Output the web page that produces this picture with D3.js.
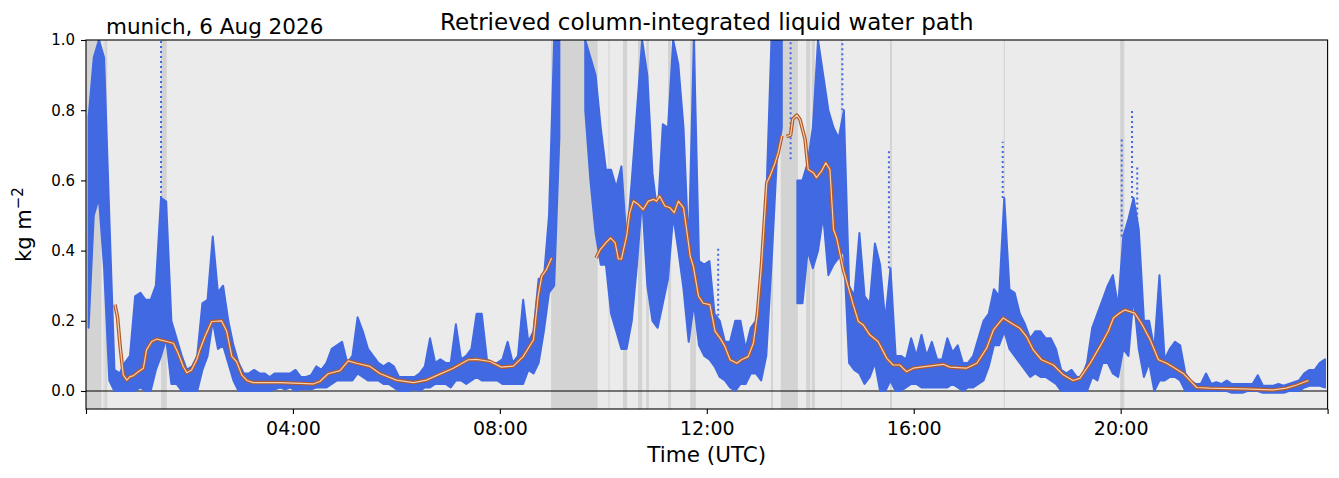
<!DOCTYPE html>
<html>
<head>
<meta charset="utf-8">
<script src="https://cdn.jsdelivr.net/npm/d3@7"></script>
<style>
  body { margin: 0; background: #fff; }
  text { font-family: "DejaVu Sans", sans-serif; }
</style>
</head>
<body>
<div id="viz"></div>
<script>
// lwp scatter, summarised per 6 minute bin (start hour, low and high edge of the blue cloud)
var binHours = d3.range(0, 24, 0.1).map(function (h) { return Math.round(h * 10) / 10; });

var lwpLow = [
  0.18, 0.50, 0.55, 0.35, 0.03, 0.00, 0.00, 0.00, 0.00, 0.00,    // 00h
  0.01, 0.00, 0.00, 0.06, 0.10, 0.15, 0.02, 0.02, 0.00, 0.00,    // 01h
  0.00, 0.00, 0.06, 0.10, 0.20, 0.12, 0.13, 0.08, 0.03, 0.00,    // 02h
  0.00, 0.00, 0.00, 0.00, 0.00, 0.00, 0.005, 0.01, 0.005, 0.01,  // 03h
  0.00, 0.005, 0.005, 0.005, 0.01, 0.01, 0.01, 0.02, 0.03, 0.03, // 04h
  0.03, 0.03, 0.05, 0.04, 0.03, 0.03, 0.03, 0.02, 0.02, 0.01,    // 05h
  0.00, 0.00, 0.00, 0.005, 0.00, 0.01, 0.01, 0.02, 0.02, 0.02,   // 06h
  0.01, 0.03, 0.03, 0.02, 0.03, 0.04, 0.03, 0.03, 0.03, 0.03,    // 07h
  0.02, 0.02, 0.02, 0.02, 0.02, 0.06, 0.05, 0.08, 0.17, 0.28,    // 08h
  0.30, 0.72, null, null, null, null, 0.80, 0.60, 0.45, 0.36,    // 09h
  0.36, 0.22, 0.17, 0.12, 0.12, 0.20, 0.36, 0.55, 0.30, 0.20,    // 10h
  0.18, 0.25, 0.32, 0.50, 0.40, 0.29, 0.14, 0.25, 0.13, 0.10,    // 11h
  0.09, 0.07, 0.04, 0.03, 0.01, 0.00, 0.02, 0.02, 0.05, 0.05,    // 12h
  0.03, 0.10, 0.36, 0.65, 0.75, null, null, 0.25, 0.25, 0.40,    // 13h
  0.35, 0.40, 0.50, 0.33, 0.36, 0.38, 0.40, 0.08, 0.06, 0.05,    // 14h
  0.02, 0.04, 0.08, 0.00, 0.00, 0.03, 0.00, 0.00, 0.01, 0.02,    // 15h
  0.02, 0.01, 0.01, 0.01, 0.01, 0.01, 0.01, 0.02, 0.01, 0.00,    // 16h
  0.01, 0.01, 0.02, 0.03, 0.07, 0.13, 0.13, 0.17, 0.12, 0.10,    // 17h
  0.08, 0.06, 0.04, 0.05, 0.04, 0.04, 0.03, 0.02, 0.00, 0.00,    // 18h
  0.00, 0.00, 0.00, 0.00, 0.04, 0.03, 0.08, 0.08, 0.05, 0.04,    // 19h
  0.12, 0.10, 0.27, 0.12, 0.04, 0.08, 0.00, 0.03, 0.03, 0.04,    // 20h
  0.04, 0.03, 0.00, 0.00, 0.00, 0.00, 0.00, 0.00, 0.00, 0.00,    // 21h
  0.00, -0.005, -0.005, -0.005, 0.00, 0.00, 0.00, -0.005, -0.005, -0.005, // 22h
  -0.005, -0.005, 0.00, 0.00, 0.00, 0.01, 0.015, 0.015, 0.015, 0.01      // 23h
];

var lwpHigh = [
  0.78, 0.95, 1.00, 0.95, 0.50, 0.06, 0.05, 0.08, 0.10, 0.27,    // 00h
  0.28, 0.26, 0.26, 0.30, 0.55, 0.54, 0.20, 0.15, 0.10, 0.06,    // 01h
  0.07, 0.10, 0.25, 0.26, 0.44, 0.28, 0.30, 0.20, 0.13, 0.08,    // 02h
  0.05, 0.05, 0.06, 0.05, 0.05, 0.04, 0.05, 0.05, 0.05, 0.05,    // 03h
  0.06, 0.04, 0.04, 0.045, 0.07, 0.06, 0.08, 0.12, 0.13, 0.14,   // 04h
  0.08, 0.10, 0.21, 0.17, 0.12, 0.10, 0.08, 0.07, 0.08, 0.07,    // 05h
  0.04, 0.04, 0.04, 0.04, 0.05, 0.07, 0.15, 0.08, 0.09, 0.08,    // 06h
  0.08, 0.19, 0.09, 0.10, 0.12, 0.22, 0.22, 0.09, 0.08, 0.08,    // 07h
  0.09, 0.14, 0.08, 0.10, 0.26, 0.14, 0.17, 0.32, 0.32, 0.50,    // 08h
  1.00, 1.00, null, null, null, null, 1.00, 0.95, 0.90, 0.75,    // 09h
  0.63, 0.63, 0.58, 0.64, 0.42, 0.60, 0.80, 1.00, 0.90, 0.62,    // 10h
  0.50, 0.76, 0.75, 1.00, 0.93, 0.75, 0.40, 1.00, 0.37, 0.36,    // 11h
  0.37, 0.22, 0.20, 0.14, 0.14, 0.20, 0.20, 0.12, 0.18, 0.20,    // 12h
  0.30, 0.55, 1.00, 1.00, 1.00, null, null, 0.60, 0.60, 0.65,    // 13h
  0.75, 1.00, 0.90, 0.80, 0.75, 0.72, 0.80, 0.30, 0.27, 0.45,    // 14h
  0.27, 0.25, 0.42, 0.36, 0.20, 0.35, 0.10, 0.10, 0.09, 0.15,    // 15h
  0.10, 0.16, 0.10, 0.14, 0.09, 0.09, 0.15, 0.11, 0.13, 0.08,    // 16h
  0.08, 0.10, 0.15, 0.20, 0.22, 0.29, 0.27, 0.55, 0.29, 0.28,    // 17h
  0.22, 0.19, 0.15, 0.17, 0.17, 0.15, 0.15, 0.12, 0.06, 0.05,    // 18h
  0.06, 0.04, 0.04, 0.08, 0.18, 0.22, 0.26, 0.30, 0.33, 0.24,    // 19h
  0.44, 0.49, 0.55, 0.46, 0.20, 0.20, 0.12, 0.33, 0.09, 0.12,    // 20h
  0.14, 0.13, 0.05, 0.03, 0.02, 0.02, 0.05, 0.02, 0.025, 0.02,   // 21h
  0.03, 0.02, 0.02, 0.02, 0.02, 0.02, 0.045, 0.015, 0.015, 0.015, // 22h
  0.02, 0.015, 0.02, 0.025, 0.03, 0.05, 0.06, 0.06, 0.08, 0.09    // 23h
];

// sparse single retrievals that stick out of the cloud
var spikeHour = [1.45, 12.22, 13.62, 14.62, 15.52, 17.72, 20.02, 20.22, 20.32];
var spikeLow  = [0.55, 0.20, 0.66, 0.80, 0.35, 0.55, 0.44, 0.55, 0.46];
var spikeHigh = [1.00, 0.41, 1.00, 1.00, 0.69, 0.71, 0.72, 0.80, 0.64];

// running mean (null = gap)
var meanHour = [0.56, 0.61, 0.66, 0.72, 0.79, 0.85, 0.91, 1.01, 1.11, 1.17, 1.27, 1.37, 1.56, 1.69, 1.78,
  1.88, 1.95, 2.04, 2.14, 2.20, 2.30, 2.43, 2.62, 2.72, 2.82, 2.91, 3.01, 3.11, 3.23, 3.75, 4.39, 4.52,
  4.68, 4.91, 5.07, 5.23, 5.49, 5.68, 6.00, 6.33, 6.58, 6.84, 7.10, 7.39, 7.55, 7.81, 8.03, 8.26, 8.45,
  8.65, 8.74, 8.81, 8.90, 9.00, 9.40,
  9.86, 9.94, 10.06, 10.14, 10.23, 10.29, 10.35, 10.45, 10.51, 10.58, 10.68, 10.77, 10.87, 10.97, 11.03,
  11.09, 11.19, 11.29, 11.37, 11.45, 11.55, 11.61, 11.68, 11.74, 11.84, 11.93, 12.06, 12.16, 12.26, 12.35,
  12.45, 12.58, 12.67, 12.80, 12.90, 12.98, 13.06, 13.16, 13.22, 13.32, 13.38, 13.45, 13.50,
  13.54, 13.62, 13.66, 13.74, 13.80, 13.90, 13.96, 14.06, 14.12, 14.22, 14.30, 14.38, 14.45, 14.51, 14.64,
  14.83, 14.93, 15.02, 15.15, 15.31, 15.48, 15.60, 15.73, 15.86, 15.99, 16.25, 16.57, 16.70, 17.02, 17.22,
  17.41, 17.54, 17.73, 17.89, 18.05, 18.18, 18.31, 18.47, 18.70, 18.89, 19.08, 19.21, 19.41, 19.60, 19.76,
  19.86, 19.98, 20.08, 20.27, 20.40, 20.57, 20.73, 20.89, 21.05, 21.21, 21.47, 21.72, 22.37, 22.95, 23.20,
  23.40, 23.63];
var meanLwp = [0.246, 0.21, 0.127, 0.046, 0.031, 0.041, 0.043, 0.055, 0.065, 0.117, 0.141, 0.148, 0.141, 0.136, 0.108,
  0.07, 0.052, 0.06, 0.089, 0.117, 0.155, 0.198, 0.2, 0.17, 0.098, 0.084, 0.046, 0.03, 0.024, 0.024, 0.02, 0.027,
  0.049, 0.058, 0.086, 0.079, 0.07, 0.05, 0.031, 0.024, 0.031, 0.048, 0.065, 0.089, 0.09, 0.084, 0.068, 0.071, 0.098,
  0.146, 0.27, 0.327, 0.346, 0.379, null,
  0.379, 0.403, 0.424, 0.436, 0.422, 0.376, 0.376, 0.441, 0.508, 0.541, 0.531, 0.517, 0.541, 0.546, 0.541,
  0.555, 0.527, 0.522, 0.508, 0.541, 0.522, 0.46, 0.384, 0.355, 0.27, 0.25, 0.246, 0.17, 0.15, 0.127,
  0.089, 0.079, 0.089, 0.098, 0.136, 0.222, 0.365, 0.593, 0.612, 0.65, 0.679, 0.727, null,
  0.725, 0.729, 0.774, 0.786, 0.774, 0.717, 0.631, 0.622, 0.608, 0.627, 0.65, 0.631, 0.46, 0.436, 0.346,
  0.246, 0.198, 0.189, 0.16, 0.141, 0.093, 0.074, 0.074, 0.055, 0.065, 0.07, 0.076, 0.068, 0.065, 0.079,
  0.122, 0.174, 0.208, 0.193, 0.179, 0.155, 0.117, 0.089, 0.074, 0.046, 0.03, 0.036, 0.079, 0.127, 0.17,
  0.208, 0.222, 0.231, 0.222, 0.193, 0.146, 0.089, 0.079, 0.065, 0.05, 0.01, 0.008, 0.006, 0.003, 0.008,
  0.017, 0.03];

// rain flag periods (hours)
var rainStart = [0.00, 0.34, 0.37, 1.45, 8.99, 10.10, 10.38, 10.67, 10.83, 11.25, 11.68, 13.24, 13.43, 13.92, 14.03, 14.59, 15.54, 17.74, 19.99];
var rainEnd   = [0.30, 0.355, 0.41, 1.56, 9.89, 10.12, 10.46, 10.75, 10.88, 11.31, 11.79, 13.28, 13.76, 14.00, 14.09, 14.61, 15.58, 17.76, 20.07];

var yTicks = [0.0, 0.2, 0.4, 0.6, 0.8, 1.0];
var xTicks = [0, 4, 8, 12, 16, 20, 24];
var xTickLabels = ['', '04:00', '08:00', '12:00', '16:00', '20:00', ''];

// plot frame
var W = 1339, H = 478;
var pLeft = 86, pRight = 1327.6, pTop = 40, pBottom = 409;

var svg = d3.select('#viz').append('svg')
  .attr('width', W)
  .attr('height', H);

var x = d3.scaleLinear().domain([0, 24]).range([pLeft, pRight]);
var y = d3.scaleLinear().domain([-0.0513, 1.0]).range([pBottom, pTop]);

svg.append('defs').append('clipPath').attr('id', 'clip')
  .append('rect')
  .attr('x', pLeft).attr('y', pTop)
  .attr('width', pRight - pLeft).attr('height', pBottom - pTop);

svg.append('rect')
  .attr('x', pLeft).attr('y', pTop)
  .attr('width', pRight - pLeft).attr('height', pBottom - pTop)
  .attr('fill', '#ebebeb');

var plot = svg.append('g').attr('clip-path', 'url(#clip)');

// rain flags
plot.selectAll('.rain')
  .data(rainStart)
  .enter()
  .append('rect')
  .attr('class', 'rain')
  .attr('x', function (d) { return x(d); })
  .attr('y', pTop)
  .attr('width', function (d, i) { return Math.max(1, x(rainEnd[i]) - x(d)); })
  .attr('height', pBottom - pTop)
  .attr('fill', '#d3d3d3');

// zero line
plot.append('line')
  .attr('x1', pLeft).attr('x2', pRight)
  .attr('y1', y(0)).attr('y2', y(0))
  .attr('stroke', '#000')
  .attr('stroke-width', 1.1);

// blue cloud of retrievals, as a band through the bin centres
var cloud = binHours.map(function (h, i) { return [h + 0.05, lwpLow[i], lwpHigh[i]]; });
var cloudArea = d3.area()
  .defined(function (d) { return d[2] !== null; })
  .x(function (d) { return x(d[0]); })
  .y0(function (d) { return y(d[1]); })
  .y1(function (d) { return y(d[2]); });

plot.append('path')
  .attr('d', cloudArea(cloud))
  .attr('fill', 'royalblue')
  .attr('stroke', 'royalblue')
  .attr('stroke-width', 2)
  .attr('stroke-linejoin', 'round');

plot.selectAll('.spike')
  .data(spikeHour)
  .enter()
  .append('line')
  .attr('class', 'spike')
  .attr('x1', function (d) { return x(d); })
  .attr('x2', function (d) { return x(d); })
  .attr('y1', function (d, i) { return y(spikeLow[i]); })
  .attr('y2', function (d, i) { return y(spikeHigh[i]); })
  .attr('stroke', 'royalblue')
  .attr('stroke-width', 2)
  .attr('stroke-dasharray', '2,3');

// running mean, drawn twice for the outlined look
var meanLine = d3.line()
  .defined(function (d) { return d[1] !== null; })
  .x(function (d) { return x(d[0]); })
  .y(function (d) { return y(d[1]); });
var meanData = meanHour.map(function (h, i) { return [h, meanLwp[i]]; });

plot.append('path')
  .attr('d', meanLine(meanData))
  .attr('fill', 'none')
  .attr('stroke', '#b35a2a')
  .attr('stroke-width', 3.6)
  .attr('stroke-linejoin', 'round');
plot.append('path')
  .attr('d', meanLine(meanData))
  .attr('fill', 'none')
  .attr('stroke', '#f6cfae')
  .attr('stroke-width', 1.2)
  .attr('stroke-linejoin', 'round');

// frame
svg.append('rect')
  .attr('x', pLeft).attr('y', pTop)
  .attr('width', pRight - pLeft).attr('height', pBottom - pTop)
  .attr('fill', 'none')
  .attr('stroke', '#000')
  .attr('stroke-width', 1.1);

// axes
var xAxis = svg.append('g')
  .attr('transform', 'translate(0,' + pBottom + ')')
  .call(d3.axisBottom(x).tickValues(xTicks)
    .tickFormat(function (d, i) { return xTickLabels[i]; })
    .tickSize(5).tickPadding(8));
xAxis.select('.domain').remove();
xAxis.selectAll('text').attr('font-size', 19).attr('fill', '#000')
  .style('font-family', '"DejaVu Sans", sans-serif');
xAxis.selectAll('line').attr('stroke', '#000').attr('stroke-width', 1.1);

var yAxis = svg.append('g')
  .attr('transform', 'translate(' + pLeft + ',0)')
  .call(d3.axisLeft(y).tickValues(yTicks).tickFormat(d3.format('.1f'))
    .tickSize(5).tickPadding(6));
yAxis.select('.domain').remove();
yAxis.selectAll('text').attr('font-size', 15).attr('fill', '#000')
  .style('font-family', '"DejaVu Sans", sans-serif');
yAxis.selectAll('line').attr('stroke', '#000').attr('stroke-width', 1.1);

// labels
svg.append('text')
  .attr('x', (pLeft + pRight) / 2).attr('y', 30)
  .attr('text-anchor', 'middle')
  .attr('font-size', 23)
  .text('Retrieved column-integrated liquid water path');

svg.append('text')
  .attr('x', 106).attr('y', 34)
  .attr('font-size', 21.5)
  .text('munich, 6 Aug 2026');

svg.append('text')
  .attr('x', (pLeft + pRight) / 2).attr('y', 462)
  .attr('text-anchor', 'middle')
  .attr('font-size', 21.5)
  .text('Time (UTC)');

var yl = svg.append('text')
  .attr('transform', 'translate(31,' + ((pTop + pBottom) / 2) + ') rotate(-90)')
  .attr('text-anchor', 'middle')
  .attr('font-size', 21);
yl.append('tspan').text('kg m');
yl.append('tspan').attr('dy', -8).attr('font-size', 15).text('\u22122');
</script>
</body>
</html>
